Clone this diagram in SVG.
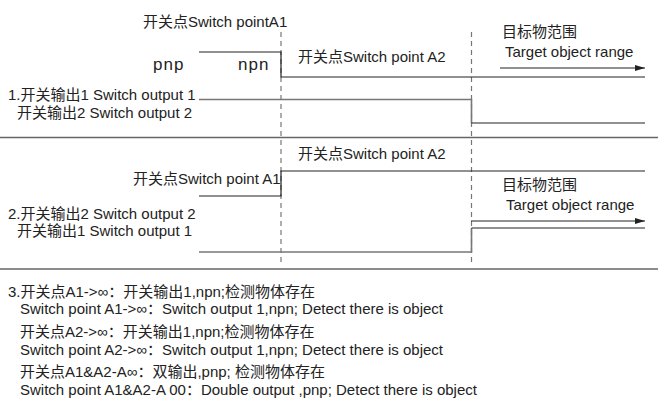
<svg xmlns="http://www.w3.org/2000/svg" width="658" height="414" viewBox="0 0 658 414">
<defs>
<style>
text{font-family:"Liberation Sans","Noto Sans CJK SC",sans-serif;font-size:15px;fill:#222}
.big{font-size:17px;letter-spacing:1px}
.sig{stroke:#222;stroke-width:1.2;fill:none}
.out{stroke:#777;stroke-width:1.6;fill:none}
.sep{stroke:#666;stroke-width:1.5;fill:none}
.dash{stroke:#777;stroke-width:1.2;stroke-dasharray:5,4;fill:none}
.arr{stroke:#222;stroke-width:1.2;fill:none;marker-end:url(#ah)}
</style>
<marker id="ah" viewBox="0 0 10 6" refX="10" refY="3" markerWidth="10" markerHeight="6" markerUnits="userSpaceOnUse" orient="auto">
<path d="M0,0 L10,3 L0,6 Z" fill="#222"/>
</marker>
</defs>
<rect width="658" height="414" fill="#fff"/>
<g id="connectors">
<line class="dash" x1="281" y1="32" x2="281" y2="266"/>
<line class="dash" x1="471.5" y1="32" x2="471.5" y2="266"/>
<line class="sep" x1="0" y1="137.5" x2="658" y2="137.5"/>
<line class="sep" x1="0" y1="269" x2="658" y2="269"/>
<polyline class="sig" points="199,52 281,52 281,77 645,77"/>
<polyline class="out" points="199,99.5 471.5,99.5 471.5,123"/>
<line class="sig" x1="471.5" y1="123" x2="645" y2="123"/>
<line class="arr" x1="500" y1="68" x2="645" y2="68"/>
<polyline class="sig" points="199,196 281,196 281,171 645,171"/>
<polyline class="out" points="199,252 471.5,252 471.5,228"/>
<line class="sig" x1="471.5" y1="228" x2="645" y2="228"/>
<line class="arr" x1="471" y1="221" x2="645" y2="221"/>
</g>
<g id="section1">
<text x="143" y="27">开关点Switch pointA1</text>
<text class="big" x="153" y="70">pnp</text>
<text class="big" x="238" y="70">npn</text>
<text x="298" y="62">开关点Switch point A2</text>
<text x="502" y="37">目标物范围</text>
<text x="505" y="57">Target object range</text>
<text x="8" y="100">1.开关输出1 Switch output 1</text>
<text x="17" y="118">开关输出2 Switch output 2</text>
</g>
<g id="section2">
<text x="298" y="159">开关点Switch point A2</text>
<text x="133" y="184">开关点Switch point A1</text>
<text x="502" y="190">目标物范围</text>
<text x="506" y="210">Target object range</text>
<text x="8" y="219">2.开关输出2 Switch output 2</text>
<text x="17" y="236">开关输出1 Switch output 1</text>
</g>
<g id="section3">
<text x="8" y="297">3.开关点A1-&gt;∞：开关输出1,npn;检测物体存在</text>
<text x="20" y="314">Switch point A1-&gt;∞：Switch output 1,npn; Detect there is object</text>
<text x="20" y="337">开关点A2-&gt;∞：开关输出1,npn;检测物体存在</text>
<text x="20" y="355">Switch point A2-&gt;∞：Switch output 1,npn; Detect there is object</text>
<text x="20" y="377">开关点A1&amp;A2-A∞：双输出,pnp; 检测物体存在</text>
<text x="20" y="395">Switch point A1&amp;A2-A 00：Double output ,pnp; Detect there is object</text>
</g>
</svg>
